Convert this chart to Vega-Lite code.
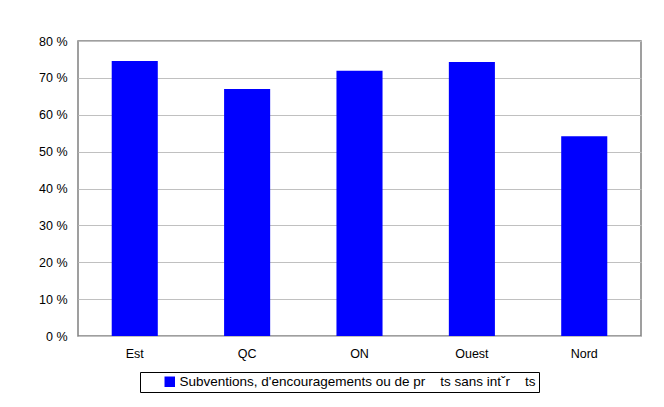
{
  "$schema": "https://vega.github.io/schema/vega-lite/v6.json",
  "width": 563,
  "height": 295,
  "autosize": "none",
  "padding": {"left": 78, "top": 41, "right": 23, "bottom": 71},
  "background": "white",
  "config": {
    "font": "Liberation Sans",
    "view": {"stroke": "#808080", "strokeWidth": 1.5}
  },
  "data": {
    "values": [
      {"region": "Est", "value": 74.6},
      {"region": "QC", "value": 67.0},
      {"region": "ON", "value": 71.9},
      {"region": "Ouest", "value": 74.3},
      {"region": "Nord", "value": 54.2}
    ]
  },
  "mark": {"type": "bar"},
  "encoding": {
    "x": {
      "field": "region",
      "type": "nominal",
      "sort": null,
      "scale": {"paddingInner": 0.59, "paddingOuter": 0.3},
      "axis": {
        "title": null,
        "labelAngle": 0,
        "domain": false,
        "ticks": false,
        "labelFontSize": 12.5,
        "labelColor": "black",
        "labelPadding": 11,
        "grid": false
      }
    },
    "y": {
      "field": "value",
      "type": "quantitative",
      "scale": {"domain": [0, 80], "nice": false},
      "axis": {
        "title": null,
        "values": [0, 10, 20, 30, 40, 50, 60, 70, 80],
        "labelExpr": "datum.value + ' %'",
        "domain": false,
        "ticks": false,
        "labelFontSize": 12.5,
        "labelColor": "black",
        "labelPadding": 11,
        "gridColor": "#c0c0c0",
        "gridWidth": 1
      }
    },
    "color": {
      "datum": "Subventions, d'encouragements ou de pr\u00a0\u00a0\u00a0\u00a0ts sans intˇr\u00a0\u00a0\u00a0\u00a0ts\u00a0\u00a0\u00a0\u00a0",
      "type": "nominal",
      "scale": {"range": ["#0000ff"]},
      "legend": {
        "title": null,
        "orient": "none",
        "legendX": 62,
        "legendY": 331,
        "strokeColor": "black",
        "padding": 3,
        "symbolType": "square",
        "symbolSize": 110,
        "symbolStrokeWidth": 0,
        "symbolOffset": 20,
        "labelOffset": 3,
        "labelFontSize": 13.5,
        "labelColor": "black",
        "labelLimit": 600
      }
    }
  }
}
